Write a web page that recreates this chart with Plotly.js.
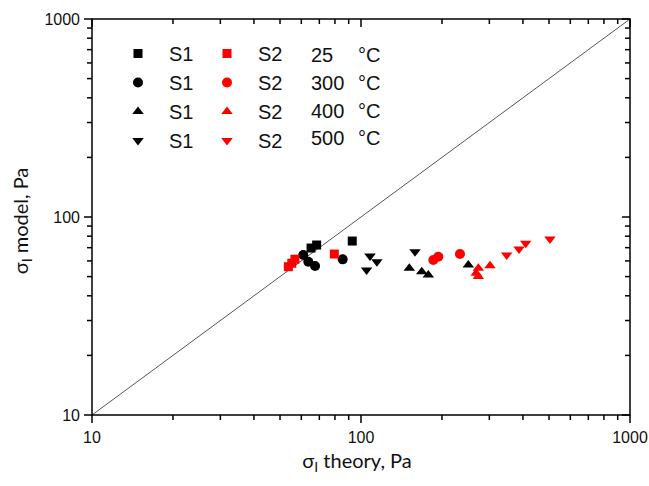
<!DOCTYPE html>
<html>
<head>
<meta charset="utf-8">
<script src="https://cdn.plot.ly/plotly-3.0.1.min.js"></script>
<style>html,body{margin:0;padding:0;background:#fff;}#chart{width:649px;height:486px;}</style>
</head>
<body>
<div id="chart"></div>
<script>
// S1 series (black)
const s1_25_x = [65.2, 68.4, 92.8];
const s1_25_y = [69.7, 72.2, 75.6];
const s1_300_x = [61.0, 63.7, 67.5, 85.5];
const s1_300_y = [64.3, 59.4, 56.6, 61.1];
const s1_400_x = [151.2, 168.2, 177.9, 250.6];
const s1_400_y = [55.1, 52.9, 50.9, 57.2];
const s1_500_x = [104.9, 108.0, 114.6, 158.8];
const s1_500_y = [54.0, 63.5, 59.4, 66.8];
// S2 series (red)
const s2_25_x = [53.7, 55.3, 56.8, 79.6];
const s2_25_y = [56.1, 58.4, 61.2, 65.0];
const s2_300_x = [185.7, 193.8, 233.3];
const s2_300_y = [60.7, 63.0, 65.0];
const s2_400_x = [273, 268, 273, 301.7];
const s2_400_y = [55.1, 52.0, 50.0, 56.8];
const s2_500_x = [348, 386.8, 409.6, 504];
const s2_500_y = [64.3, 68.9, 73.6, 77.4];
// reference line y = x
const diag_x = [10, 1000];
const diag_y = [10, 1000];
const temps = ["25", "300", "400", "500"];
// axis ticks
const majorTicks = [10, 100, 1000];
const minorTicks = [20, 30, 40, 50, 60, 70, 80, 90, 200, 300, 400, 500, 600, 700, 800, 900];

const FONT = "Liberation Sans, Arial, sans-serif";
const symbols = ["square", "circle", "triangle-up", "triangle-down"];
const s1 = [[s1_25_x, s1_25_y], [s1_300_x, s1_300_y], [s1_400_x, s1_400_y], [s1_500_x, s1_500_y]];
const s2 = [[s2_25_x, s2_25_y], [s2_300_x, s2_300_y], [s2_400_x, s2_400_y], [s2_500_x, s2_500_y]];

const traces = [{
  x: diag_x, y: diag_y, mode: "lines", line: {color: "#555", width: 1}, showlegend: false, hoverinfo: "skip"
}];
s1.forEach((d, i) => traces.push({
  x: d[0], y: d[1], mode: "markers", name: "S1", legend: "legend",
  marker: {symbol: symbols[i], color: "black", size: symbols[i] === "square" ? 9 : 10}
}));
s2.forEach((d, i) => traces.push({
  x: d[0], y: d[1], mode: "markers", name: "S2", legend: "legend2",
  marker: {symbol: symbols[i], color: "#ff0000", size: symbols[i] === "square" ? 9 : 10}
}));

// plot area includes an 8px strip for outside ticks on left and bottom
const ML = 84, MR = 19, MT = 19, MB = 63;
const W = 649 - ML - MR, H = 486 - MT - MB;
const MAJ = 8, MIN = 5;
const XDEC = 269, YDEC = 198;
const XR = [1 - MAJ / XDEC, 3], YR = [1 - MAJ / YDEC, 3];
const fx = v => (Math.log10(v) - XR[0]) / (XR[1] - XR[0]);
const fy = v => (Math.log10(v) - YR[0]) / (YR[1] - YR[0]);
const x0p = fx(10), y0p = fy(10);

const shapes = [];
const ln = {color: "black", width: 1.5};
// frame
shapes.push({type: "rect", xref: "paper", yref: "paper", x0: x0p, y0: y0p, x1: 1, y1: 1, line: ln, fillcolor: "rgba(0,0,0,0)", layer: "above"});
function addTicks(vals, len) {
  vals.forEach(v => {
    const px = fx(v), py = fy(v);
    // bottom (outside) and top (inside)
    shapes.push({type: "line", xref: "paper", yref: "paper", x0: px, x1: px, y0: y0p, y1: y0p - len / H, line: ln, layer: "above"});
    shapes.push({type: "line", xref: "paper", yref: "paper", x0: px, x1: px, y0: 1, y1: 1 - len / H, line: ln, layer: "above"});
    // left (outside) and right (inside)
    shapes.push({type: "line", xref: "paper", yref: "paper", x0: x0p, x1: x0p - len / W, y0: py, y1: py, line: ln, layer: "above"});
    shapes.push({type: "line", xref: "paper", yref: "paper", x0: 1, x1: 1 - len / W, y0: py, y1: py, line: ln, layer: "above"});
  });
}
addTicks(majorTicks, MAJ);
addTicks(minorTicks, MIN);

function axis(range, extra) {
  return Object.assign({
    type: "log", range: range, tickmode: "array", tickvals: majorTicks, ticktext: majorTicks.map(String),
    showgrid: false, zeroline: false, showline: false,
    ticks: "", ticklabelstandoff: 3,
    tickfont: {family: FONT, size: 16, color: "#111"}
  }, extra);
}
const rows = [55, 82.8, 110.6, 138.4];
const annotations = [];
temps.forEach((t, i) => {
  const yp = (486 - MB - rows[i]) / H;
  annotations.push({xref: "paper", yref: "paper", x: (309 - ML) / W, y: yp, xanchor: "left", yanchor: "middle",
    text: t, showarrow: false, font: {family: FONT, size: 20, color: "#111"}});
  annotations.push({xref: "paper", yref: "paper", x: (356 - ML) / W, y: yp, xanchor: "left", yanchor: "middle",
    text: "°C", showarrow: false, font: {family: FONT, size: 20, color: "#111"}});
});

const layout = {
  width: 649, height: 486,
  margin: {l: ML, r: MR, t: MT, b: MB},
  paper_bgcolor: "white", plot_bgcolor: "white",
  showlegend: true,
  xaxis: axis(XR, {
    title: {text: "σ<sub>I</sub> theory, Pa", font: {family: "Lato, sans-serif", size: 20, color: "#111"}, standoff: 8}
  }),
  yaxis: axis(YR, {
    title: {text: "σ<sub>I</sub> model, Pa", font: {family: "Lato, sans-serif", size: 20, color: "#111"}, standoff: 10}
  }),
  legend: {x: (107 - ML) / W, y: (486 - MB - 34) / H, xanchor: "left", yanchor: "top", itemwidth: 52,
    bgcolor: "rgba(0,0,0,0)", font: {family: FONT, size: 20, color: "#111"}, tracegroupgap: 0},
  legend2: {x: (196 - ML) / W, y: (486 - MB - 34) / H, xanchor: "left", yanchor: "top", itemwidth: 52,
    bgcolor: "rgba(0,0,0,0)", font: {family: FONT, size: 20, color: "#111"}, tracegroupgap: 0},
  shapes: shapes,
  annotations: annotations
};
Plotly.newPlot("chart", traces, layout, {displayModeBar: false, staticPlot: true});
</script>
</body>
</html>
